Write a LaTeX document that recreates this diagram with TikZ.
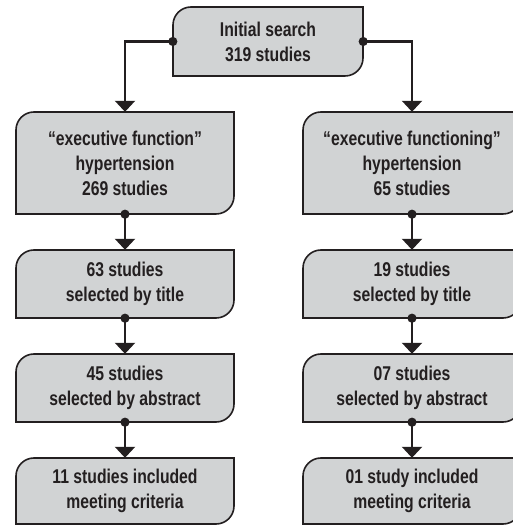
\documentclass[tikz,border=0pt]{standalone}
\usepackage{fontspec}
\setmainfont{Liberation Sans}[FakeStretch=0.79]
\usepackage{tikz}
\usetikzlibrary{calc,arrows.meta}
\definecolor{boxgray}{HTML}{D1D3D4}
\definecolor{inkgray}{HTML}{231F20}
\NewDocumentCommand{\studybox}{O{18} m m m m m m}{ % radius, name, x, y, width, height, text
    \coordinate (#2-sw) at (#3-#5/2,#4-#6/2);
    \coordinate (#2-ne) at (#3+#5/2,#4+#6/2);
    \draw[boxline] (#2-sw) -- ($(#2-sw |- #2-ne)-(0,#1)$)
        arc[start angle=180, end angle=90, radius=#1bp] -- (#2-ne)
        -- ($(#2-ne |- #2-sw)+(0,#1)$)
        arc[start angle=0, end angle=-90, radius=#1bp] -- cycle;
    \node[boxtext, minimum width=#5bp, minimum height=#6bp] (#2) at (#3,#4) {#7};
}

\begin{document}
\begin{tikzpicture}[x=1bp, y=1bp,
        boxline/.style={draw=inkgray, fill=boxgray, line width=1.6bp},
        boxtext/.style={inner sep=0pt, align=center, text=inkgray,
            font=\bfseries\fontsize{20}{25}\selectfont},
        link/.style={draw=inkgray, line width=2.2bp, shorten <=-4.5bp,
            {Circle[length=9bp]}-{Triangle[width=20bp, length=11bp]}}]
    \useasboundingbox (0,0) rectangle (513,525);
    \studybox{search}{268}{483.5}{190}{69}{Initial search\\319 studies}
    % left column
    \studybox{funcA}{125}{362}{218}{102}{``executive function''\\hypertension\\269 studies}
    \studybox{titleA}{125}{241}{218}{68}{63 studies\\selected by title}
    \studybox{abstrA}{125}{137}{218}{68}{45 studies\\selected by abstract}
    \studybox{inclA}{125}{34}{218}{66}{11 studies included\\meeting criteria}
    % right column
    \studybox{funcB}{412}{362}{218}{102}{``executive functioning''\\hypertension\\65 studies}
    \studybox{titleB}{412}{241}{218}{68}{19 studies\\selected by title}
    \studybox{abstrB}{412}{137}{218}{68}{07 studies\\selected by abstract}
    \studybox{inclB}{412}{34}{218}{66}{01 study included\\meeting criteria}
    \draw[link] (search.west) -| (funcA.north);
    \draw[link] (search.east) -| (funcB.north);
    \draw[link] (funcA.south) -- (titleA.north);
    \draw[link] (titleA.south) -- (abstrA.north);
    \draw[link] (abstrA.south) -- (inclA.north);
    \draw[link] (funcB.south) -- (titleB.north);
    \draw[link] (titleB.south) -- (abstrB.north);
    \draw[link] (abstrB.south) -- (inclB.north);
\end{tikzpicture}
\end{document}
